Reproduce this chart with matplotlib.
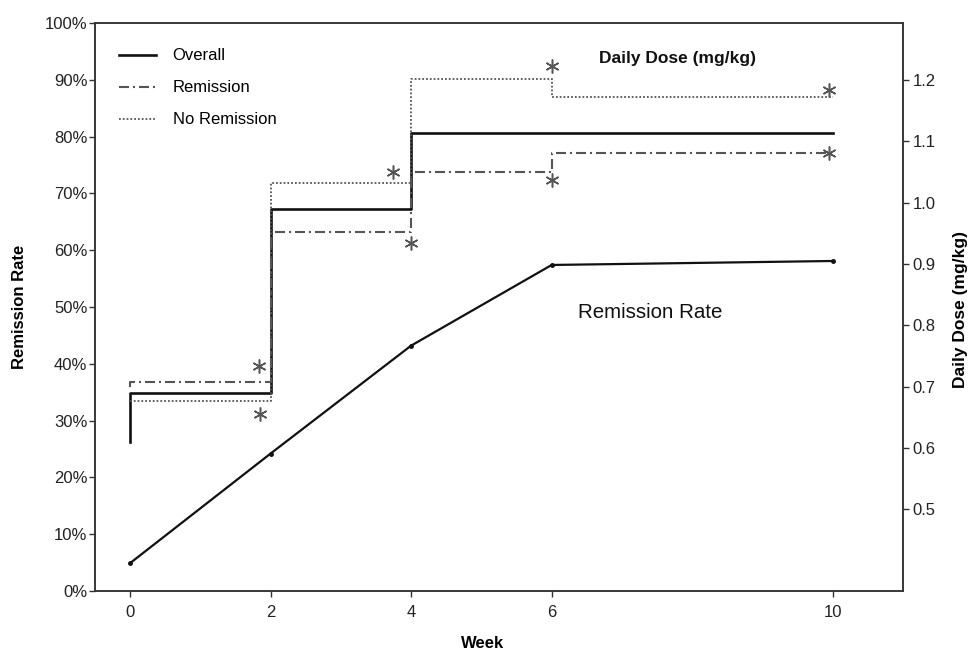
import matplotlib
matplotlib.use('Agg')
import matplotlib.pyplot as plt
from matplotlib.ticker import PercentFormatter
from matplotlib.transforms import offset_copy

plt.rcParams['font.family'] = ['Liberation Sans', 'DejaVu Sans']

# weeks of the study
weeks = [0, 2, 4, 6, 10]

# remission rate (%) - left axis
remission_rate = [4.9, 24.2, 43.2, 57.4, 58.1]

# daily dose (mg/kg) - right axis, drawn as steps
dose_overall = [0.61, 0.69, 0.99, 1.113, 1.113]
dose_remission = [0.70, 0.707, 0.952, 1.050, 1.081]
dose_no_remission = [0.676, 0.676, 1.032, 1.2015, 1.172]

# weeks with a significant difference (marked with *)
sig_weeks_remission = [2, 4, 6, 10]
sig_weeks_no_remission = [2, 4, 6, 10]

x_ticks = [0, 2, 4, 6, 10]
pct_ticks = list(range(0, 101, 10))
dose_ticks = [0.5, 0.6, 0.7, 0.8, 0.9, 1.0, 1.1, 1.2]

fig = plt.figure(figsize=(9.76, 6.52), dpi=100)
ax = fig.add_axes([0.0973, 0.0936, 0.8279, 0.8711])
ax2 = ax.twinx()

dark = '#111111'
grey = '#555555'

# remission rate curve
ax.plot(weeks, remission_rate, color=dark, lw=1.6, marker='o', ms=2.5)

# dose step lines
ax2.plot(weeks, dose_overall, drawstyle='steps-pre', color=dark, lw=1.9, label='Overall')
ax2.plot(weeks, dose_remission, drawstyle='steps-pre', color=grey, lw=1.5,
         linestyle=(0, (4.8, 1.9, 1.0, 1.9)), label='Remission')
ax2.plot(weeks, dose_no_remission, drawstyle='steps-pre', color=grey, lw=1.3,
         linestyle=(0, (1.0, 1.1)), label='No Remission')

# significance asterisks, nudged off the lines (pixel offsets)
star_offsets_remission = [(-12, 16), (0, -11), (0, -8), (-4, 0)]
star_offsets_no_remission = [(-11, -13), (-18, 11), (0, 13), (-4, 7)]
for sig_weeks, values, offsets in [(sig_weeks_remission, dose_remission, star_offsets_remission),
                                   (sig_weeks_no_remission, dose_no_remission, star_offsets_no_remission)]:
    for w, (dx, dy) in zip(sig_weeks, offsets):
        tr = offset_copy(ax2.transData, fig=fig, x=dx, y=dy, units='dots')
        ax2.plot([w], [values[weeks.index(w)]], transform=tr, marker=(6, 2, 0),
                 ms=10, mew=1.1, color=grey, ls='none')

# axes setup
ax.set_xlim(-0.5, 11)
ax.set_ylim(0, 100)
ax2.set_ylim(0.367, 1.293)
ax.set_xticks(x_ticks)
ax.set_yticks(pct_ticks)
ax.yaxis.set_major_formatter(PercentFormatter(decimals=0))
ax2.set_yticks(dose_ticks)
ax2.set_yticklabels([f'{t:.1f}' for t in dose_ticks])

for a in (ax, ax2):
    for s in a.spines.values():
        s.set_color('#333333')
        s.set_linewidth(1.1)

ax.tick_params(axis='y', direction='out', length=4.5, width=1, pad=1, labelsize=12,
               colors='#333333', labelcolor='#222222')
ax.tick_params(axis='x', direction='out', length=4, width=1, pad=6, labelsize=12,
               colors='#333333', labelcolor='#222222')
ax2.tick_params(axis='y', direction='out', length=4, width=1, pad=3, labelsize=12,
                colors='#333333', labelcolor='#222222')

ax.set_xlabel('Week', fontsize=12, fontweight='bold')
ax.xaxis.set_label_coords(0.48, -0.079)
ax.set_ylabel('Remission Rate', fontsize=12, fontweight='bold')
ax.yaxis.set_label_coords(-0.084, 0.5)
ax2.set_ylabel('Daily Dose (mg/kg)', fontsize=12.5, fontweight='bold')
ax2.yaxis.set_label_coords(1.062, 0.495)

ax2.text(0.7215, 0.938, 'Daily Dose (mg/kg)', transform=ax2.transAxes, ha='center',
         va='center', fontsize=12.5, fontweight='bold', color='#111111')
ax2.text(0.687, 0.491, 'Remission Rate', transform=ax2.transAxes, ha='center',
         va='center', fontsize=14.8, color='#111111')

ax2.legend(loc='upper left', bbox_to_anchor=(0.022, 0.967), borderaxespad=0,
           frameon=False, fontsize=12, handlelength=2.2, handletextpad=1.0,
           labelspacing=1.02)

fig.savefig('out.png', dpi=100)
